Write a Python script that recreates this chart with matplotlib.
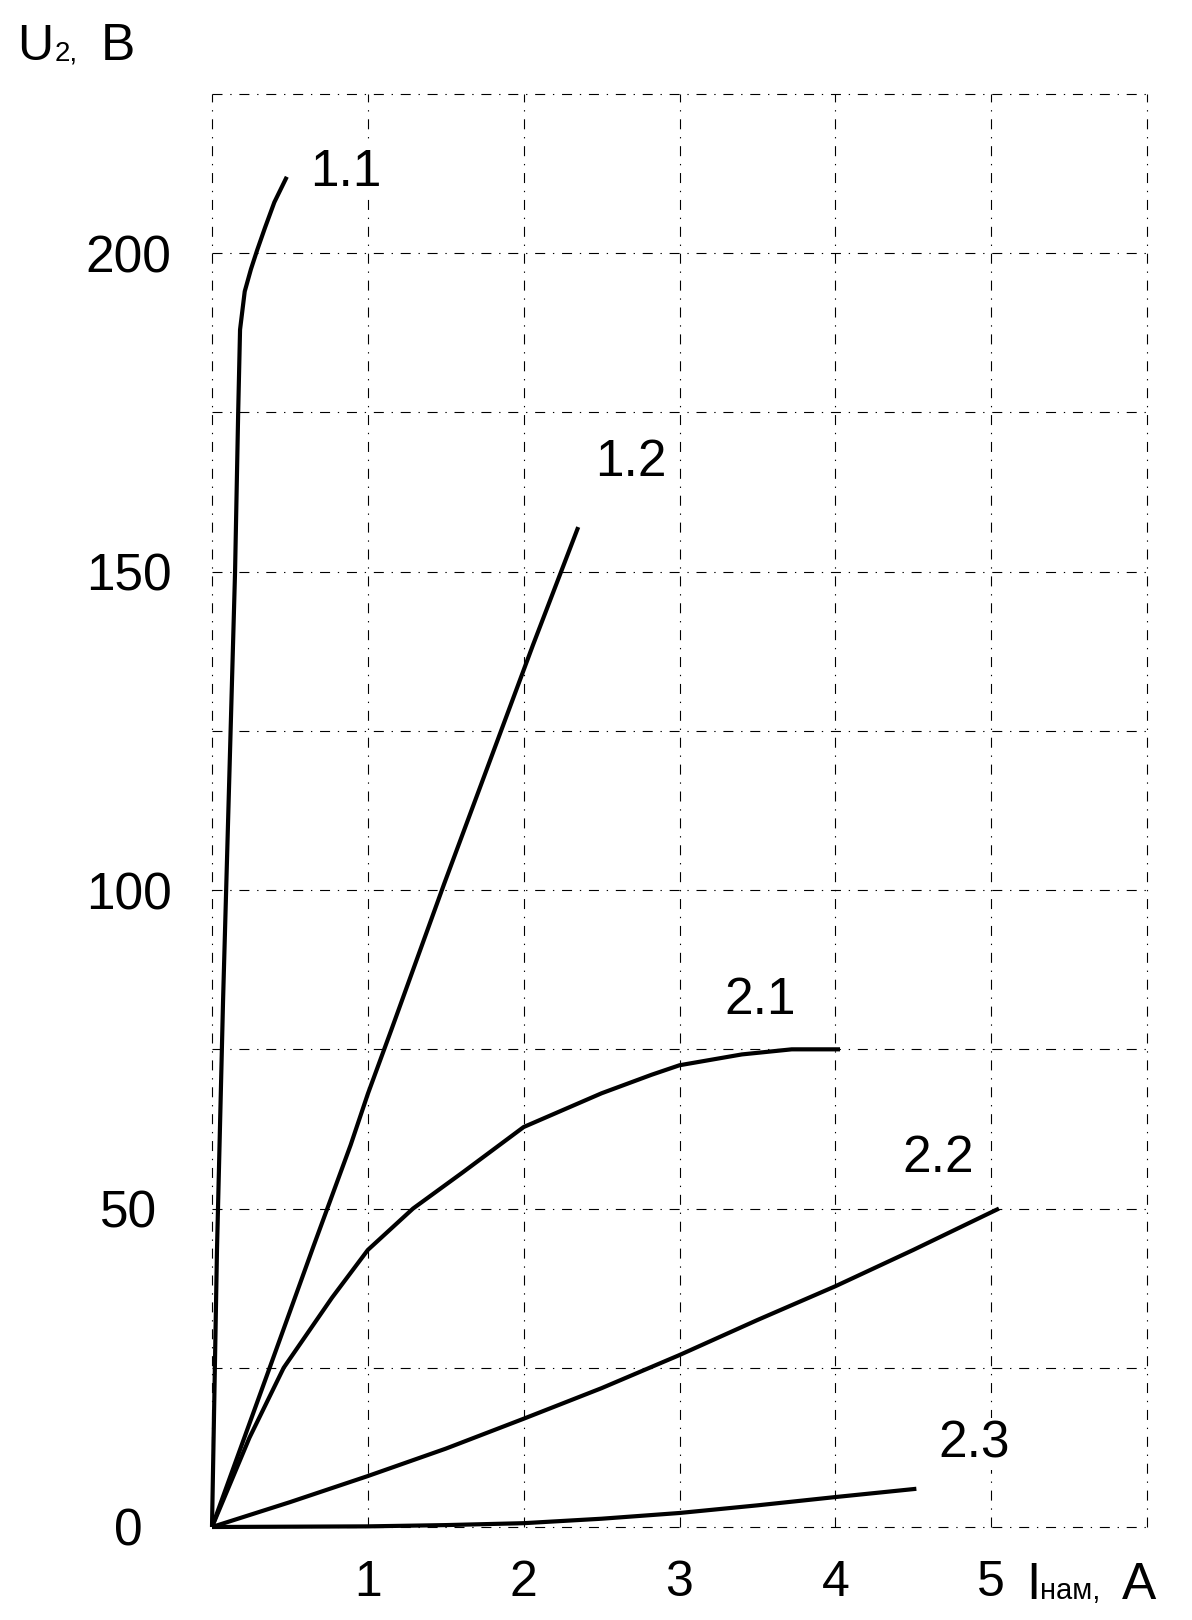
import matplotlib
matplotlib.use("Agg")
import matplotlib.pyplot as plt

plt.rcParams['font.family'] = ['Liberation Sans', 'DejaVu Sans']

# curves: load current (A) -> U2 (V)
x_11 = [0, 0.032, 0.071, 0.148, 0.168, 0.18, 0.21, 0.25, 0.29, 0.34, 0.40, 0.48]
y_11 = [0, 43.5, 82.7, 150, 175, 188, 194, 197.5, 200.5, 204, 208, 212]

x_12 = [0, 0.37, 0.65, 0.89, 1.0, 1.15, 1.49, 1.87, 2.06, 2.35]
y_12 = [0, 25, 44, 60, 68, 78, 101, 126, 138.5, 157]

x_21 = [0, 0.24, 0.46, 0.77, 1.0, 1.29, 1.61, 2.0, 2.5, 2.82, 3.0, 3.4, 3.72, 4.03]
y_21 = [0, 14, 25, 36, 43.5, 50, 55.7, 62.8, 68.1, 71, 72.5, 74.2, 75, 75]

x_22 = [0, 0.5, 1.0, 1.5, 2.0, 2.5, 3.0, 3.5, 4.0, 4.5, 5.05]
y_22 = [0, 3.9, 8.0, 12.3, 17, 21.8, 27, 32.5, 37.8, 43.5, 50]

x_23 = [0, 1.0, 1.5, 2.0, 2.5, 3.0, 3.5, 4.0, 4.52]
y_23 = [0, 0.1, 0.3, 0.6, 1.3, 2.2, 3.4, 4.7, 6.0]

curve_names = ['1.1', '1.2', '2.1', '2.2', '2.3']
name_x = [0.86, 2.69, 3.52, 4.66, 4.89]
name_y = [212.7, 167.2, 82.7, 57.8, 13.0]

xtick_vals = [1, 2, 3, 4, 5]
ytick_vals = [0, 50, 100, 150, 200]
xgrid = [0, 1, 2, 3, 4, 5, 6]
ygrid = [0, 25, 50, 75, 100, 125, 150, 175, 200, 225]

W, H = 1192, 1620
fig = plt.figure(figsize=(W / 100, H / 100), dpi=100)
ax = fig.add_axes([212 / W, 1 - 1527 / H, (1147 - 212) / W, (1527 - 94) / H])
ax.set_xlim(0, 6)
ax.set_ylim(0, 225)

for s in ax.spines.values():
    s.set_visible(False)

# dash-dot grid
grid_style = dict(color='black', linewidth=0.8, linestyle=(0, (9, 7, 1.2, 7)),
                  clip_on=False, zorder=1)
for gx in xgrid:
    ax.axvline(gx, **grid_style)
for gy in ygrid:
    ax.axhline(gy, **grid_style)

ax.tick_params(which='both', length=0)
ax.set_xticks(xtick_vals)
ax.set_xticklabels([str(v) for v in xtick_vals], fontsize=36)
ax.set_yticks(ytick_vals)
ax.set_yticklabels([str(v) for v in ytick_vals], fontsize=37)
ax.tick_params(axis='x', pad=24)
ax.tick_params(axis='y', pad=60)
for lab in ax.get_yticklabels():
    lab.set_horizontalalignment('center')

lw = 3.0
for xs, ys in [(x_11, y_11), (x_12, y_12), (x_21, y_21), (x_22, y_22), (x_23, y_23)]:
    ax.plot(xs, ys, color='black', linewidth=lw, solid_capstyle='butt',
            solid_joinstyle='round', clip_on=False, zorder=3)

for name, nx, ny in zip(curve_names, name_x, name_y):
    ax.text(nx, ny, name, fontsize=37, ha='center', va='center', zorder=4,
            bbox=dict(facecolor='white', edgecolor='none', pad=1))

# axis titles
fig.text(17 / W, 1 - 60 / H, 'U', fontsize=36, ha='left', va='baseline')
fig.text(55 / W, 1 - 60 / H, '2,', fontsize=20, ha='left', va='baseline')
fig.text(101 / W, 1 - 60 / H, 'B', fontsize=37, ha='left', va='baseline')

fig.text(1026 / W, 1 - 1599 / H, 'I', fontsize=37, ha='left', va='baseline')
fig.text(1040 / W, 1 - 1599 / H, 'нам,', fontsize=21, ha='left', va='baseline')
fig.text(1122 / W, 1 - 1599 / H, 'A', fontsize=37, ha='left', va='baseline')

fig.savefig('out.png', dpi=100)
